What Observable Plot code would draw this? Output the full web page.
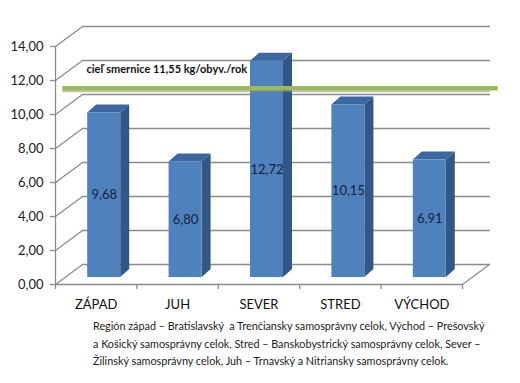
<!DOCTYPE html>
<html>
<head>
<meta charset="utf-8">
<script src="https://cdn.jsdelivr.net/npm/d3@7"></script>
<script src="https://cdn.jsdelivr.net/npm/@observablehq/plot@0.6"></script>
<style>
  body { margin: 0; background: #fff; font-family: Lato, "Open Sans", sans-serif; }
  #wrap { position: relative; width: 520px; height: 383px; }
  #caption { position: absolute; left: 93px; top: 317px; width: 425px; font-size: 10.8px; line-height: 17.5px; color: #222; white-space: nowrap; }
  svg g[aria-label="y-axis tick label"], svg g[aria-label="x-axis tick label"] { font-variant: normal; }
</style>
</head>
<body>
<div id="wrap">
  <div id="chart"></div>
  <div id="caption">Región západ – Bratislavský&nbsp; a Trenčiansky samosprávny celok, Východ – Prešovský<br>a Košický samosprávny celok, Stred – Banskobystrický samosprávny celok, Sever –<br>Žilinský samosprávny celok, Juh – Trnavský a Nitriansky samosprávny celok.</div>
</div>
<script>
const categories = ["ZÁPAD", "JUH", "SEVER", "STRED", "VÝCHOD"];
const values = [9.68, 6.80, 12.72, 10.15, 6.91];
const yTicks = [0, 2, 4, 6, 8, 10, 12, 14];
const targetValue = 11.55;
const targetLabel = "cieľ smernice 11,55 kg/obyv./rok";

const fmt = v => v.toFixed(2).replace(".", ",");
const idx = categories.map((c, i) => i);
const data = categories.map((c, i) => ({cat: c, i, v: values[i]}));

// frame geometry
const W = 520, H = 312, mL = 55, mR = 58, mT = 46, mB = 28;
const pxX = (W - mL - mR) / categories.length;
const pxY = (H - mT - mB) / 14;
const wallDX = 27 / pxX, wallDY = 20 / pxY;
const hw = 16.5 / pxX;
const sdX = 9 / pxX, sdY = 8 / pxY;
const barDx = 8, barDy = -7;

const x0 = -0.5, x1 = categories.length - 0.5;

const grid = yTicks.flatMap(t => [
  {t, x: x0 + wallDX, y: t + wallDY},
  {t, x: x1 + wallDX, y: t + wallDY}
]);
const diag = yTicks.flatMap(t => [
  {t, x: x0, y: t},
  {t, x: x0 + wallDX, y: t + wallDY}
]);
const floorR = [{x: x1, y: 0}, {x: x1 + wallDX, y: wallDY}];

const sideFace = data.flatMap(d => [
  {cat: d.cat, x: d.i + hw, y1: 0, y2: d.v},
  {cat: d.cat, x: d.i + hw + sdX, y1: sdY, y2: d.v + sdY}
]);
const topFace = data.flatMap(d => [
  {cat: d.cat, x: d.i - hw, y1: d.v, y2: d.v},
  {cat: d.cat, x: d.i - hw + sdX, y1: d.v, y2: d.v + sdY},
  {cat: d.cat, x: d.i + hw, y1: d.v, y2: d.v + sdY},
  {cat: d.cat, x: d.i + hw + sdX, y1: d.v + sdY, y2: d.v + sdY}
]);

const gridColor = "#8c8c8c";

const chart = Plot.plot({
  width: W,
  height: H,
  marginLeft: mL, marginRight: mR, marginTop: mT, marginBottom: mB,
  style: {fontFamily: "Lato, sans-serif", background: "#fff", overflow: "visible"},
  x: {type: "linear", domain: [x0, x1], axis: null},
  y: {domain: [0, 14], axis: null},
  marks: [
    Plot.line(grid, {x: "x", y: "y", z: "t", stroke: gridColor, strokeWidth: 1.3}),
    Plot.line(diag, {x: "x", y: "y", z: "t", stroke: gridColor, strokeWidth: 1.3}),
    Plot.line(floorR, {x: "x", y: "y", stroke: gridColor, strokeWidth: 1.3}),
    Plot.ruleX([x0], {y1: 0, y2: 14, stroke: gridColor, strokeWidth: 1.3}),
    Plot.ruleY([0], {x1: x0, x2: x1, stroke: gridColor, strokeWidth: 1.3}),
    Plot.axisY(yTicks, {anchor: "left", tickSize: 5, tickPadding: 7, tickFormat: fmt, fontSize: 13, fill: "#222", stroke: gridColor, strokeWidth: 1.3}),
    Plot.axisX(d3.range(categories.length + 1).map(i => i - 0.5), {anchor: "bottom", tickSize: 5, tickFormat: () => "", stroke: gridColor, strokeWidth: 1.3}),
    Plot.axisX(idx, {anchor: "bottom", tickSize: 0, tickPadding: 15, tickFormat: i => categories[i], fontSize: 13, fill: "#111"}),
    Plot.areaY(sideFace, {x: "x", y1: "y1", y2: "y2", z: "cat", fill: "#325685", dx: barDx, dy: barDy}),
    Plot.areaY(topFace, {x: "x", y1: "y1", y2: "y2", z: "cat", fill: "#3e679f", dx: barDx, dy: barDy}),
    Plot.rect(data, {x1: d => d.i - hw, x2: d => d.i + hw, y1: 0, y2: "v", fill: "#4f81bd", dx: barDx, dy: barDy}),
    Plot.text(data, {x: "i", y: d => d.v / 2, text: d => fmt(d.v), fontSize: 13, fill: "#15223f", dx: barDx, dy: barDy}),
    Plot.ruleY([targetValue], {x1: x0 + 0.09, x2: x1 + 0.34, stroke: "#888", strokeOpacity: 0.5, strokeWidth: 3, dy: 2.5}),
    Plot.ruleY([targetValue], {x1: x0 + 0.09, x2: x1 + 0.44, stroke: "#9bbb59", strokeWidth: 4.5}),
    Plot.text([targetLabel], {x: x0, y: targetValue, text: d => d, dx: 31, dy: -19, textAnchor: "start", fontSize: 11, fontWeight: "bold", fill: "#111"})
  ]
});
document.getElementById("chart").appendChild(chart);
</script>
</body>
</html>
